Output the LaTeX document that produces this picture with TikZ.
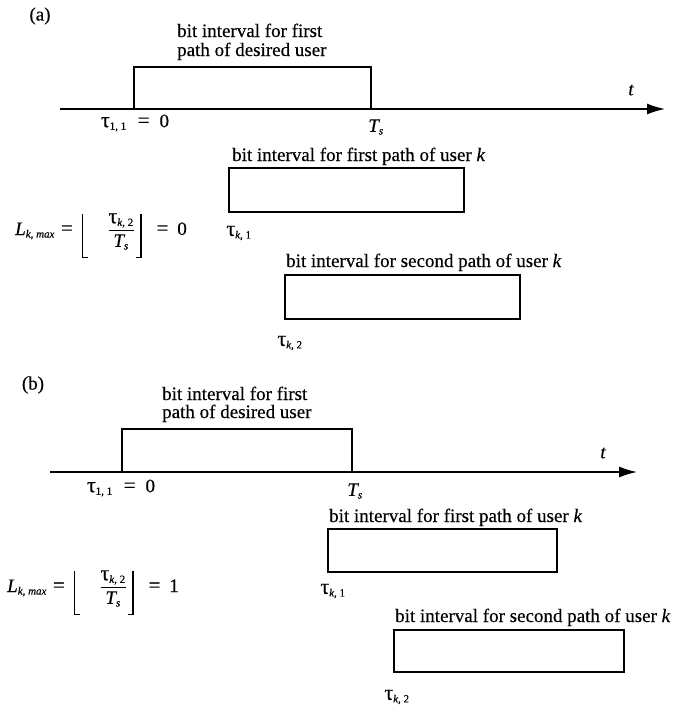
\documentclass[tikz,border=0pt]{standalone}
\usepackage{amsmath}
\usepackage{graphicx}
\usepackage{fontspec}
\setmainfont{Liberation Serif}[FakeBold=0.4]
\usetikzlibrary{arrows.meta}
\DeclareMathSizes{19}{19}{11}{9}
\newcommand{\vi}[1]{\text{\itshape #1}}
\newcommand{\tauc}{\text{\scalebox{1.15}{τ}}}
\newcommand{\eqs}{\text{\scalebox{1.1}{=}}}
\newcommand{\lflbr}{\rlap{\rule[-23pt]{6pt}{1.3pt}}\rule[-23pt]{1.3pt}{44pt}}
\newcommand{\rflbr}{\rule[-23pt]{1.3pt}{44pt}\llap{\rule[-23pt]{6pt}{1.3pt}}}
\newcommand{\lmaxeq}[1]{\nulldelimiterspace=3.5pt$\vi{L}_{\vi{k}\text{, }\vi{max}}\hspace{6pt}\eqs\hspace{9pt}\lflbr\hspace{22pt}\dfrac{\tauc_{\vi{k}\text{, 2}}}{\vi{T}_{\vi{s}}}\hspace{3pt}\rflbr\hspace{15pt}\eqs\hspace{9pt}\text{#1}$}
\begin{document}
\begin{tikzpicture}[x=1pt,y=-1pt,
  every node/.style={inner sep=0pt,font=\fontsize{19}{19}\selectfont},
  bitbox/.style={draw,line width=1.1pt,inner sep=0pt},
  pulse/.style={draw,line width=1.1pt},
  taxis/.style={line width=1.5pt,-{Latex[length=18pt,width=11pt]}},
  txt/.style={anchor=base west},
  lbl/.style={anchor=center},
  eqn/.style={anchor=base west}]
\useasboundingbox (0,0) rectangle (680,705);
% ---------------- (a) ----------------
\node[lbl] (pa) at (40,16) {(a)};
\node[txt] (da1) at (177,37) {bit interval for first};
\node[txt] (da2) at (177,56) {path of desired user};
\coordinate (a0) at (60,109);
\coordinate (aend) at (665,109);
\coordinate (pal) at (134,109);
\coordinate (par) at (371,109);
\draw[pulse] (pal) |- (371,67) -- (par);
\draw[taxis] (a0) -- (aend);
\node[lbl] (ta) at (631,90) {\itshape t};
\node[lbl] (tau11a) at (135,123) {$\tauc_{\text{1, 1}}\hspace{11pt}\eqs\hspace{10pt}\text{0}$};
\node[lbl] (tsa) at (376,127) {$\vi{T}_{\vi{s}}$};
\node[txt] (f1a) at (232,161) {bit interval for first path of user \itshape k};
\node[bitbox,minimum width=235pt,minimum height=44pt] (b1a) at (346.5,190) {};
\node[lbl] (tk1a) at (239,233) {$\tauc_{\vi{k}\text{, 1}}$};
\node[eqn] (la) at (15,235) {\lmaxeq{0}};
\node[txt] (f2a) at (286,267) {bit interval for second path of user \itshape k};
\node[bitbox,minimum width=235pt,minimum height=44pt] (b2a) at (402.5,297) {};
\node[lbl] (tk2a) at (290,343) {$\tauc_{\vi{k}\text{, 2}}$};
% ---------------- (b) ----------------
\node[lbl] (pb) at (33,385) {(b)};
\node[txt] (db1) at (162,400) {bit interval for first};
\node[txt] (db2) at (162,418) {path of desired user};
\coordinate (b0) at (50,472);
\coordinate (bend) at (637,472);
\coordinate (pbl) at (122,472);
\coordinate (pbr) at (352,472);
\draw[pulse] (pbl) |- (352,429) -- (pbr);
\draw[taxis] (b0) -- (bend);
\node[lbl] (tb) at (603,453) {\itshape t};
\node[lbl] (tau11b) at (121,488) {$\tauc_{\text{1, 1}}\hspace{11pt}\eqs\hspace{10pt}\text{0}$};
\node[lbl] (tsb) at (355,491) {$\vi{T}_{\vi{s}}$};
\node[txt] (f1b) at (329,522) {bit interval for first path of user \itshape k};
\node[bitbox,minimum width=229pt,minimum height=43pt] (b1b) at (442.5,550.5) {};
\node[lbl] (tk1b) at (333,591) {$\tauc_{\vi{k}\text{, 1}}$};
\node[eqn] (lb) at (7,592) {\lmaxeq{1}};
\node[txt] (f2b) at (395,622) {bit interval for second path of user \itshape k};
\node[bitbox,minimum width=230pt,minimum height=42pt] (b2b) at (509,651) {};
\node[lbl] (tk2b) at (397,697) {$\tauc_{\vi{k}\text{, 2}}$};
\end{tikzpicture}
\end{document}
